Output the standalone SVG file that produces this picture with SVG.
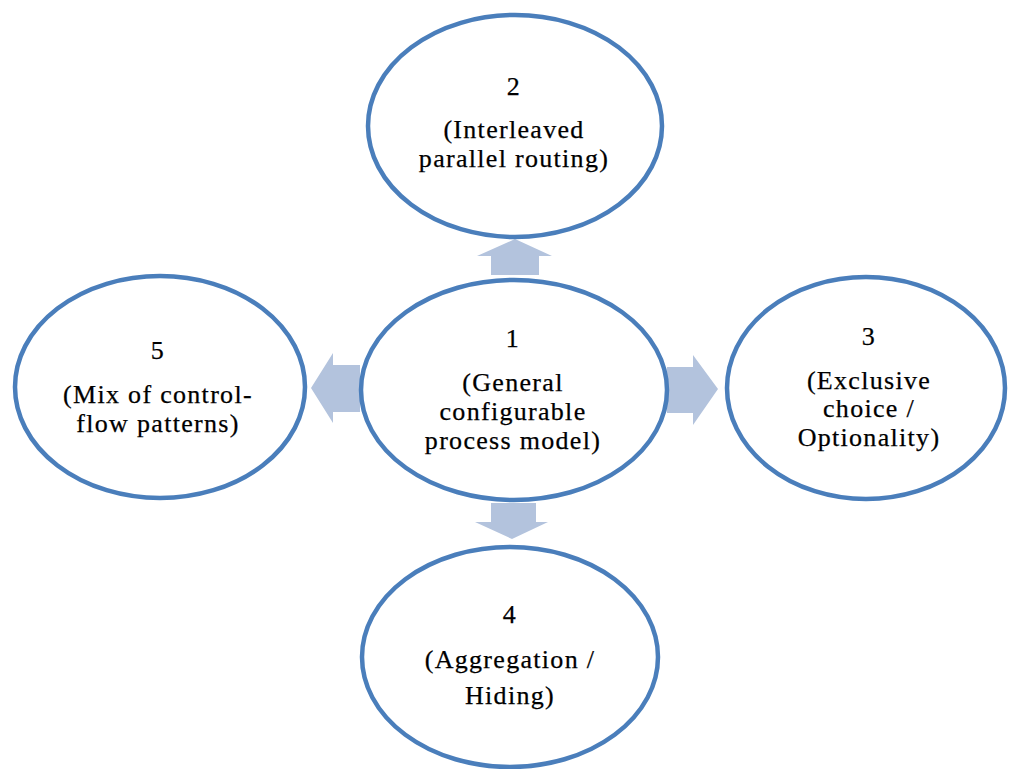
<svg xmlns="http://www.w3.org/2000/svg" width="1010" height="769" viewBox="0 0 1010 769">
  <style>
    .node { fill: #ffffff; stroke: #4A7EBB; stroke-width: 4.5; }
    .arrow { fill: #B3C3DD; stroke: none; }
    .label { font-family: "Liberation Serif", "Times New Roman", serif; font-size: 26px; letter-spacing: 1.3px; fill: #000000; stroke: #000000; stroke-width: 0.25; text-anchor: middle; }
  </style>
  <rect width="1010" height="769" fill="#ffffff"/>

  <!-- block arrows from the central model out to each variant -->
  <g id="connectors">
    <polygon class="arrow" points="491,275 491,256 477,256 515,239 552,256 539,256 539,275"/>
    <polygon class="arrow" points="360,365 333,365 333,353 311,388 333,423 333,412 360,412"/>
    <polygon class="arrow" points="667,367 693,367 693,355 718,389 693,425 693,413 667,413"/>
    <polygon class="arrow" points="491,503 536,503 536,522 548,522 512,539 475,522 491,522"/>
  </g>

  <g id="node-1">
    <ellipse class="node" cx="514" cy="390" rx="153" ry="110"/>
    <text class="label" x="513" y="347">1</text>
    <text class="label" x="513" y="391">(General</text>
    <text class="label" x="513" y="420">configurable</text>
    <text class="label" x="513" y="449">process model)</text>
  </g>

  <g id="node-2">
    <ellipse class="node" cx="515" cy="126" rx="147" ry="111"/>
    <text class="label" x="514" y="95">2</text>
    <text class="label" x="514" y="138">(Interleaved</text>
    <text class="label" x="514" y="167">parallel routing)</text>
  </g>

  <g id="node-3">
    <ellipse class="node" cx="866" cy="388" rx="139" ry="111"/>
    <text class="label" x="869" y="345">3</text>
    <text class="label" x="869" y="389">(Exclusive</text>
    <text class="label" x="869" y="417">choice /</text>
    <text class="label" x="869" y="446">Optionality)</text>
  </g>

  <g id="node-4">
    <ellipse class="node" cx="510" cy="657" rx="148" ry="110"/>
    <text class="label" x="510" y="623">4</text>
    <text class="label" x="510" y="668">(Aggregation /</text>
    <text class="label" x="510" y="704">Hiding)</text>
  </g>

  <g id="node-5">
    <ellipse class="node" cx="160" cy="387" rx="145" ry="111"/>
    <text class="label" x="158" y="359">5</text>
    <text class="label" x="158" y="403">(Mix of control-</text>
    <text class="label" x="158" y="432">flow patterns)</text>
  </g>
</svg>
